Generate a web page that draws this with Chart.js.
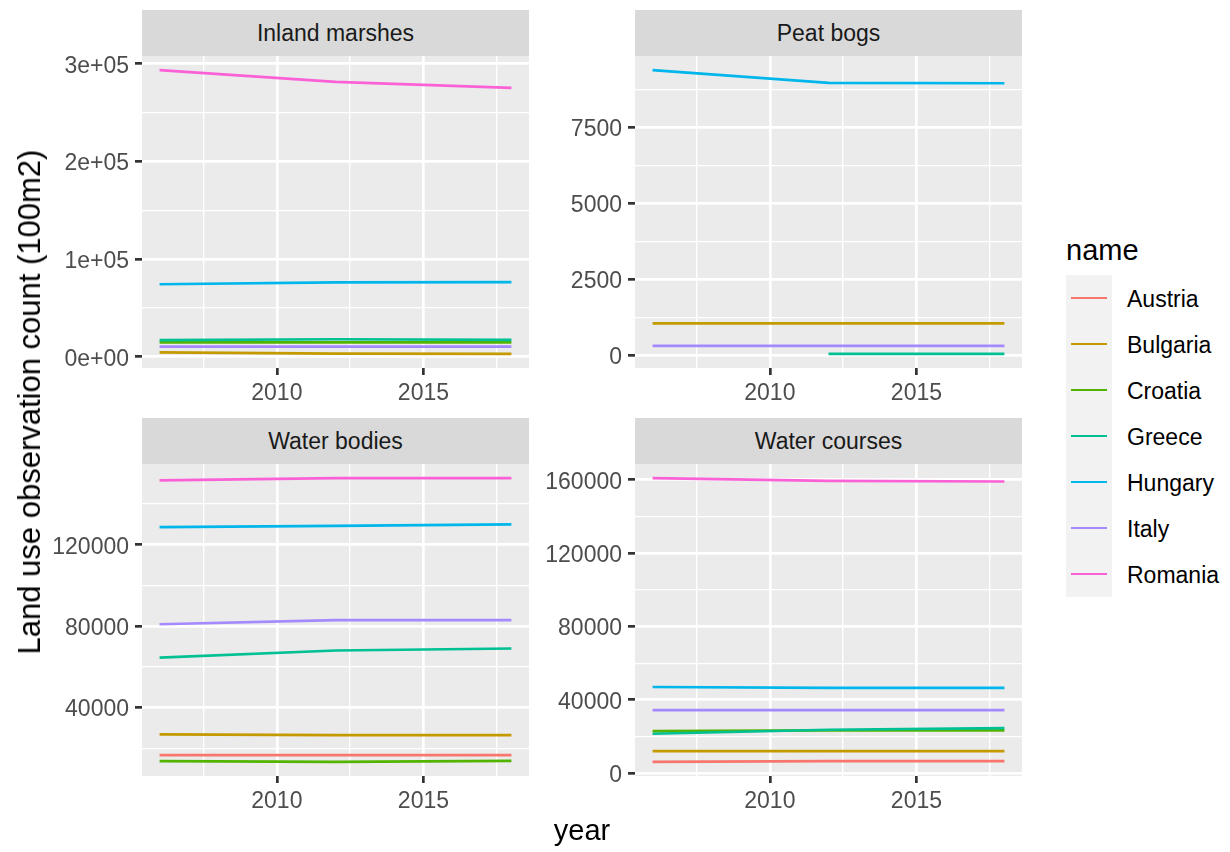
<!DOCTYPE html>
<html>
<head>
<meta charset="utf-8">
<script src="https://cdn.jsdelivr.net/npm/chart.js@4.4.1/dist/chart.umd.min.js"></script>
<style>
  body { margin: 0; background: #ffffff; }
  #fig { position: relative; width: 1230px; height: 852px; overflow: hidden;
         font-family: "Liberation Sans", Arial, sans-serif; background: #ffffff; }
  .strip { position: absolute; background: #D9D9D9; color: #1A1A1A; font-size: 23px;
           text-align: center; height: 46px; line-height: 46px; white-space: nowrap; }
  canvas { position: absolute; }
  .title { position: absolute; color: #000000; font-size: 29px; white-space: nowrap; }
  .key { position: absolute; width: 46px; height: 46px; background: #F2F2F2; }
  .key span { position: absolute; left: 5px; top: 21.6px; width: 36px; height: 2.7px; }
  .keylab { position: absolute; font-size: 23px; color: #000000; white-space: nowrap;
            height: 46px; line-height: 48px; }
</style>
</head>
<body>
<div id="fig"></div>
<script>
// Survey years and x-axis breaks
const years = [2006, 2012, 2018];
const yearBreaks = [2010, 2015];

// Countries and their colours (default hue palette)
const countries = ['Austria', 'Bulgaria', 'Croatia', 'Greece', 'Hungary', 'Italy', 'Romania'];
const countryColors = ['#F8766D', '#C49A00', '#53B400', '#00C094', '#00B6EB', '#A58AFF', '#FB61D7'];

// Facet titles (land use classes)
const facetNames = ['Inland marshes', 'Peat bogs', 'Water bodies', 'Water courses'];

// Observation counts (100 m2) per country, one value per survey year; null = no record
const inlandMarshes = [
  null,                       // Austria
  [4600, 3200, 3100],         // Bulgaria
  [14800, 14900, 14800],      // Croatia
  [17200, 18000, 17400],      // Greece
  [74300, 76200, 76400],      // Hungary
  [10500, 10500, 10500],      // Italy
  [293400, 281400, 275300]    // Romania
];
const peatBogs = [
  null,                       // Austria
  [1050, 1050, 1050],         // Bulgaria
  null,                       // Croatia
  [null, 45, 45],             // Greece
  [9390, 8970, 8960],         // Hungary
  [310, 310, 310],            // Italy
  null                        // Romania
];
const waterBodies = [
  [16600, 16600, 16600],      // Austria
  [26800, 26400, 26400],      // Bulgaria
  [13600, 13300, 13800],      // Croatia
  [64500, 68000, 69000],      // Greece
  [128600, 129300, 130000],   // Hungary
  [80900, 82900, 82900],      // Italy
  [151600, 152700, 152700]    // Romania
];
const waterCourses = [
  [6200, 6550, 6550],         // Austria
  [12000, 12000, 12000],      // Bulgaria
  [22900, 23400, 23400],      // Croatia
  [21500, 23700, 24600],      // Greece
  [47000, 46500, 46500],      // Hungary
  [34400, 34400, 34400],      // Italy
  [160900, 159400, 159100]    // Romania
];

// Y-axis breaks and their labels for each facet
const inlandMarshesBreaks = [0, 100000, 200000, 300000];
const inlandMarshesLabels = ['0e+00', '1e+05', '2e+05', '3e+05'];
const peatBogsBreaks = [0, 2500, 5000, 7500];
const peatBogsLabels = ['0', '2500', '5000', '7500'];
const waterBodiesBreaks = [40000, 80000, 120000];
const waterBodiesLabels = ['40000', '80000', '120000'];
const waterCoursesBreaks = [0, 40000, 80000, 120000, 160000];
const waterCoursesLabels = ['0', '40000', '80000', '120000', '160000'];

// ---- layout ----
const fig = document.getElementById('fig');
const panelW = 387, panelH = 312, stripH = 46;
const panelLefts = [142, 635];
const panelTops = [56, 464];
const yAxisW = 130, xAxisH = 50, padTop = 20, padRight = 12;
const FONT = '"Liberation Sans", Arial, sans-serif';
Chart.defaults.font.family = FONT;

const MAJOR_W = 2.7, MINOR_W = 1.35, LINE_W = 2.7;

// 5% expansion on each side, like a default continuous scale
function expand(lo, hi) {
  const pad = (hi - lo) * 0.05;
  return [lo - pad, hi + pad];
}
// minor breaks halfway between majors, one step beyond each end, inside limits
function minorBreaks(major, lo, hi) {
  const step = major[1] - major[0];
  const out = [];
  for (let i = -1; i < major.length; i++) {
    const m = major[0] + (i + 0.5) * step;
    if (m >= lo && m <= hi) out.push(m);
  }
  return out;
}

// background fill for the plotting panel
const panelBg = {
  id: 'panelBg',
  beforeDraw(chart) {
    const a = chart.chartArea, c = chart.ctx;
    c.save();
    c.fillStyle = '#EBEBEB';
    c.fillRect(a.left, a.top, a.right - a.left, a.bottom - a.top);
    c.restore();
  }
};

function drawFacet(k, values, breaks, labels) {
  const col = k % 2, row = Math.floor(k / 2);
  const left = panelLefts[col], top = panelTops[row];

  const strip = document.createElement('div');
  strip.className = 'strip';
  strip.style.left = left + 'px';
  strip.style.top = (top - stripH) + 'px';
  strip.style.width = panelW + 'px';
  strip.textContent = facetNames[k];
  fig.appendChild(strip);

  const canvas = document.createElement('canvas');
  canvas.width = yAxisW + panelW + padRight;
  canvas.height = padTop + panelH + xAxisH;
  canvas.style.left = (left - yAxisW) + 'px';
  canvas.style.top = (top - padTop) + 'px';
  fig.appendChild(canvas);

  const all = values.flat().filter(v => v !== null && v !== undefined);
  const [yLo, yHi] = expand(Math.min(...all), Math.max(...all));
  const [xLo, xHi] = expand(Math.min(...years), Math.max(...years));

  const yMinor = minorBreaks(breaks, yLo, yHi);
  const yTicks = breaks.filter(b => b >= yLo && b <= yHi).concat(yMinor).sort((a, b) => a - b);
  const xMinor = minorBreaks(yearBreaks, xLo, xHi);
  const xTicks = yearBreaks.concat(xMinor).sort((a, b) => a - b);
  const yLabel = new Map(breaks.map((b, i) => [b, labels[i]]));

  const datasets = countries.map((name, i) => {
    const v = values[i];
    return {
      label: name,
      data: v ? years.map((x, j) => ({ x: x, y: v[j] })).filter(p => p.y !== null) : [],
      borderColor: countryColors[i],
      backgroundColor: countryColors[i],
      borderWidth: LINE_W,
      pointRadius: 0,
      fill: false,
      tension: 0,
      order: countries.length - 1 - i
    };
  });

  const isMajorX = v => yearBreaks.includes(v);
  const isMajorY = v => yLabel.has(v);

  new Chart(canvas, {
    type: 'line',
    data: { datasets },
    plugins: [panelBg],
    options: {
      responsive: false,
      animation: false,
      devicePixelRatio: 1,
      layout: { padding: { top: padTop, right: padRight, left: 0, bottom: 0 } },
      plugins: { legend: { display: false }, tooltip: { enabled: false } },
      scales: {
        x: {
          type: 'linear', position: 'bottom', min: xLo, max: xHi,
          afterBuildTicks: s => { s.ticks = xTicks.map(v => ({ value: v })); },
          afterFit: s => { s.height = xAxisH; },
          border: { display: false },
          grid: {
            color: '#FFFFFF',
            lineWidth: c => isMajorX(c.tick.value) ? MAJOR_W : MINOR_W,
            drawTicks: true, tickLength: 7, tickWidth: MAJOR_W,
            tickColor: c => isMajorX(c.tick.value) ? '#333333' : 'rgba(0,0,0,0)'
          },
          ticks: {
            autoSkip: false, maxRotation: 0, minRotation: 0, padding: 5,
            color: '#4D4D4D', font: { size: 23, family: FONT },
            callback: v => isMajorX(v) ? String(v) : ''
          }
        },
        y: {
          type: 'linear', position: 'left', min: yLo, max: yHi,
          afterBuildTicks: s => { s.ticks = yTicks.map(v => ({ value: v })); },
          afterFit: s => { s.width = yAxisW; },
          border: { display: false },
          grid: {
            color: '#FFFFFF',
            lineWidth: c => isMajorY(c.tick.value) ? MAJOR_W : MINOR_W,
            drawTicks: true, tickLength: 7, tickWidth: MAJOR_W,
            tickColor: c => isMajorY(c.tick.value) ? '#333333' : 'rgba(0,0,0,0)'
          },
          ticks: {
            autoSkip: false, padding: 6, labelOffset: 2.5,
            color: '#4D4D4D', font: { size: 23, family: FONT },
            callback: v => isMajorY(v) ? yLabel.get(v) : ''
          }
        }
      }
    }
  });
}

drawFacet(0, inlandMarshes, inlandMarshesBreaks, inlandMarshesLabels);
drawFacet(1, peatBogs, peatBogsBreaks, peatBogsLabels);
drawFacet(2, waterBodies, waterBodiesBreaks, waterBodiesLabels);
drawFacet(3, waterCourses, waterCoursesBreaks, waterCoursesLabels);

// axis titles
const xTitle = document.createElement('div');
xTitle.className = 'title';
xTitle.textContent = 'year';
xTitle.style.left = '0px';
xTitle.style.width = (panelLefts[0] + panelLefts[1] + panelW) + 'px';
xTitle.style.textAlign = 'center';
xTitle.style.top = '812px';
xTitle.style.lineHeight = '36px';
fig.appendChild(xTitle);

const yTitle = document.createElement('div');
yTitle.className = 'title';
yTitle.textContent = 'Land use observation count (100m2)';
yTitle.style.left = '30px';
yTitle.style.top = '402px';
yTitle.style.fontSize = '31px';
yTitle.style.lineHeight = '36px';
yTitle.style.transform = 'translate(-50%, -50%) rotate(-90deg)';
fig.appendChild(yTitle);

// legend
const legTitle = document.createElement('div');
legTitle.className = 'title';
legTitle.textContent = 'name';
legTitle.style.left = '1066px';
legTitle.style.top = '232px';
legTitle.style.lineHeight = '36px';
fig.appendChild(legTitle);

countries.forEach((name, i) => {
  const key = document.createElement('div');
  key.className = 'key';
  key.style.left = '1066px';
  key.style.top = (275 + 46 * i) + 'px';
  const ln = document.createElement('span');
  ln.style.background = countryColors[i];
  key.appendChild(ln);
  fig.appendChild(key);
  const lab = document.createElement('div');
  lab.className = 'keylab';
  lab.textContent = name;
  lab.style.left = '1127px';
  lab.style.top = (275 + 46 * i) + 'px';
  fig.appendChild(lab);
});
</script>
</body>
</html>
